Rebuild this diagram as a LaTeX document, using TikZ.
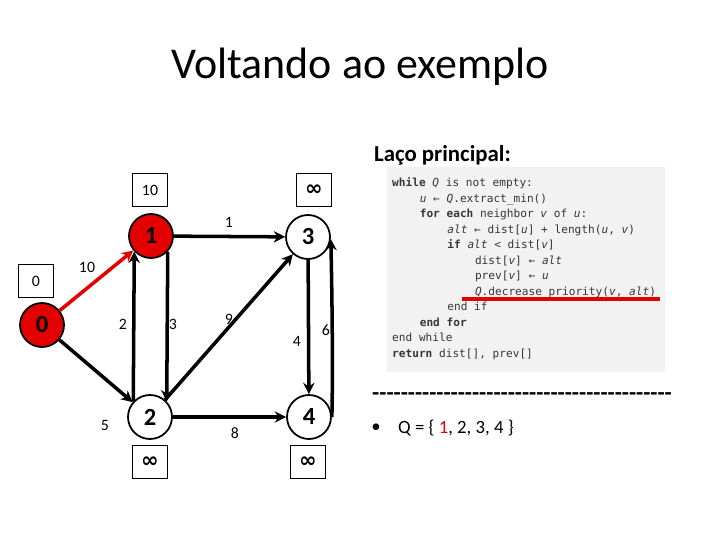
\documentclass[tikz,border=0pt]{standalone}
\usepackage{fontspec}
\setmainfont{Carlito}
\setmonofont{DejaVu Sans Mono}
\newfontfamily\simbolo{DejaVu Sans}
\usetikzlibrary{arrows.meta}
\definecolor{vermelho}{RGB}{226,0,0}
\definecolor{fundo}{RGB}{242,242,242}
\definecolor{codigo}{RGB}{55,55,55}

\begin{document}
\begin{tikzpicture}[x=0.03cm, y=-0.03cm,
  vert/.style={circle, draw, line width=1.5pt, minimum size=1.32cm, inner sep=0pt,
    font=\fontsize{21}{21}\selectfont\bfseries},
  dist/.style={draw, line width=1.3pt, minimum width=1.05cm, minimum height=1cm, inner sep=0pt,
    font=\fontsize{13.5}{14}\selectfont},
  infi/.style={dist, font=\simbolo\bfseries\fontsize{18}{18}\selectfont},
  peso/.style={font=\fontsize{13.5}{14}\selectfont},
  aresta/.style={-{Stealth[length=3.4mm, width=3.4mm]}, line width=3pt},
  linha/.style={anchor=base west, inner sep=0pt, text=codigo,
    font=\ttfamily\fontsize{9.5}{13}\selectfont}]
\useasboundingbox (0,0) rectangle (720,540);

\node[font=\fontsize{37.5}{40}\selectfont] (titulo) at (360,67) {Voltando ao exemplo};

% grafo
\node[vert, fill=vermelho] (n0) at (42,325) {0};
\node[vert, fill=vermelho] (n1) at (151,236) {1};
\node[vert] (n2) at (150,417) {2};
\node[vert] (n3) at (308,237) {3};
\node[vert] (n4) at (309,417) {4};

\node[dist] (d0) at (36,281) {0};
\node[dist] (d1) at (150,190) {10};
\node[infi] (d3) at (314,190) {∞};
\node[infi] (d2) at (150,462) {∞};
\node[infi] (d4) at (308,462) {∞};

\draw[aresta, vermelho] (n0) -- (n1);
\draw[aresta] (n0) -- (n2);
\draw[aresta] (n1) -- (n3);
\draw[aresta] (n1.-43) -- (n2.43);
\draw[aresta] (n2.137) -- (n1.-137);
\draw[aresta] (n2) -- (n3);
\draw[aresta] (n2) -- (n4);
\draw[aresta] (n3) -- (n4);
\draw[aresta] (n4.east) .. controls (333,370) and (332,290) .. (n3.-5);

\node[peso] (p01) at (87,267) {10};
\node[peso] (p02) at (105,425) {5};
\node[peso] (p13) at (229,222) {1};
\node[peso] (p21) at (123,324) {2};
\node[peso] (p12) at (173,324) {3};
\node[peso] (p23) at (229,319) {9};
\node[peso] (p24) at (235,433) {8};
\node[peso] (p34) at (297,341) {4};
\node[peso] (p43) at (326,330) {6};

% laco principal
\node[anchor=west, font=\fontsize{19.5}{22}\selectfont\bfseries] (laco) at (370,155) {Laço principal:};
\fill[fundo] (387,167) rectangle (665,372);
\foreach \i/\lv/\txt in {
  0/0/{\textbf{while} \textit{Q} is not empty:},
  1/1/{\textit{u} ← \textit{Q}.extract\_min()},
  2/1/{\textbf{for each} neighbor \textit{v} of \textit{u}:},
  3/2/{\textit{alt} ← dist[\textit{u}] + length(\textit{u}, \textit{v})},
  4/2/{\textbf{if} \textit{alt} < dist[\textit{v}]},
  5/3/{dist[\textit{v}] ← \textit{alt}},
  6/3/{prev[\textit{v}] ← \textit{u}},
  7/3/{\textit{Q}.decrease\_priority(\textit{v}, \textit{alt})},
  8/2/{end if},
  9/1/{\textbf{end for}},
  10/0/{end while},
  11/0/{\textbf{return} dist[], prev[]}}
  \node[linha] (c\i) at (392+27.6*\lv, 187+15.5*\i) {\txt};
\draw[vermelho, line width=2.6pt] (462,299) -- (660,299);

\node[anchor=west, inner sep=0pt, font=\fontsize{19.9}{20}\selectfont\bfseries] (tracos) at (372,397)
  {\foreach \k in {1,...,42}{-\kern0pt}};
\node[font=\fontsize{16}{18}\selectfont] (bala) at (376,428) {•};
\node[anchor=west, inner sep=0pt, font=\fontsize{16}{18}\selectfont] (fila) at (398,428)
  {Q = \{ \textcolor{vermelho}{1}, 2, 3, 4 \}};
\end{tikzpicture}
\end{document}
